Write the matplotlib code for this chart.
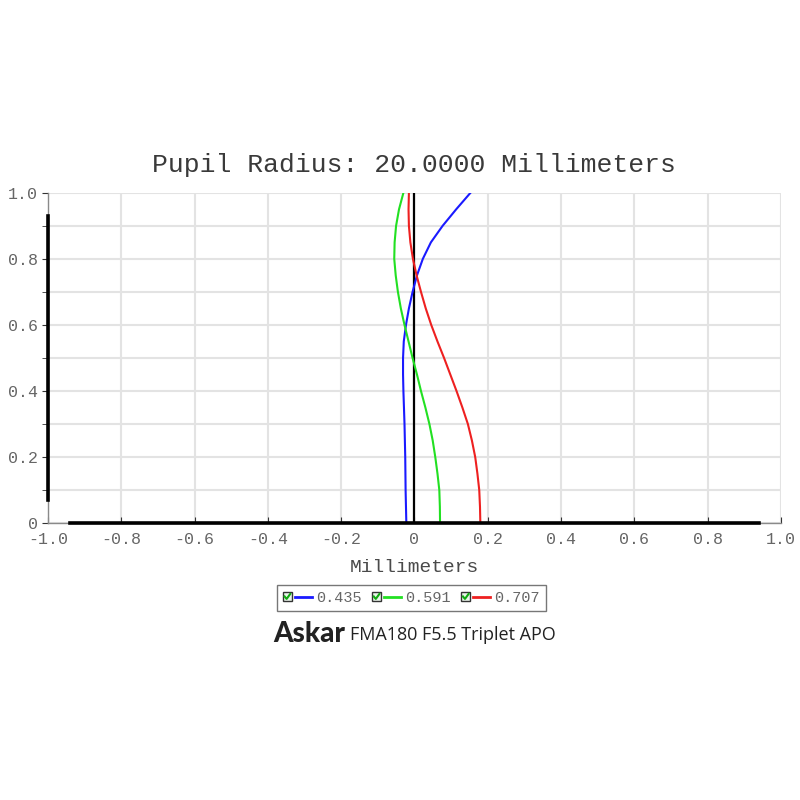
import numpy as np
import matplotlib
matplotlib.use("Agg")
import matplotlib.pyplot as plt
from matplotlib.legend_handler import HandlerLine2D
from matplotlib.lines import Line2D
from matplotlib.patches import Rectangle

# --- Dáta odčítané z obrázka ---
pupil = [0.00, 0.05, 0.10, 0.15, 0.20, 0.25, 0.30, 0.35, 0.40, 0.45, 0.50,
         0.55, 0.60, 0.65, 0.70, 0.75, 0.80, 0.85, 0.90, 0.95, 1.00]

blue_435 = [-0.022, -0.023, -0.024, -0.0245, -0.025, -0.026, -0.027, -0.0285, -0.030, -0.031, -0.031,
            -0.029, -0.023, -0.015, -0.005, 0.007, 0.023, 0.045, 0.077, 0.114, 0.153]
green_591 = [0.070, 0.0695, 0.068, 0.063, 0.057, 0.050, 0.041, 0.030, 0.018, 0.007, -0.005,
             -0.016, -0.027, -0.037, -0.045, -0.051, -0.055, -0.054, -0.050, -0.042, -0.030]
red_707 = [0.180, 0.179, 0.177, 0.172, 0.166, 0.157, 0.146, 0.131, 0.115, 0.098, 0.081,
           0.063, 0.046, 0.031, 0.018, 0.006, -0.004, -0.011, -0.015, -0.016, -0.015]

series_labels = ["0.435", "0.591", "0.707"]
series_colors = ["#1a1aff", "#22e022", "#ee2020"]

xticks = [-1.0, -0.8, -0.6, -0.4, -0.2, 0.0, 0.2, 0.4, 0.6, 0.8, 1.0]
xtick_labels = ["-1.0", "-0.8", "-0.6", "-0.4", "-0.2", "0", "0.2", "0.4", "0.6", "0.8", "1.0"]
yticks = [0.0, 0.2, 0.4, 0.6, 0.8, 1.0]
ytick_labels = ["0", "0.2", "0.4", "0.6", "0.8", "1.0"]
yminor = [0.1, 0.3, 0.5, 0.7, 0.9]

title = "Pupil Radius: 20.0000 Millimeters"
xlabel = "Millimeters"
brand = "Askar"
model = "FMA180 F5.5 Triplet APO"

mono = "Liberation Mono"
gray_txt = "#666666"


class CheckHandler(HandlerLine2D):
    """Legenda: zaškrtávacie políčko + čiara."""
    def create_artists(self, legend, orig, xdescent, ydescent, width, height, fontsize, trans):
        s = height * 0.85
        y0 = -ydescent + height / 2.0
        x0 = -xdescent
        box = Rectangle((x0, y0 - s / 2), s, s, facecolor="#eaf6ea",
                        edgecolor="#333333", lw=1.0, transform=trans)
        check = Line2D([x0 + 0.2 * s, x0 + 0.42 * s, x0 + 0.82 * s],
                       [y0 + 0.02 * s, y0 - 0.25 * s, y0 + 0.3 * s],
                       color="#11aa11", lw=1.5, transform=trans)
        line = Line2D([x0 + s + 2, x0 + width], [y0, y0],
                      color=orig.get_color(), lw=2.0, transform=trans)
        return [box, check, line]


fig = plt.figure(figsize=(8, 8), dpi=100)
ax = fig.add_axes([0.06, 0.346, 0.916, 0.413])

lines = []
for xs, lab, col in zip([blue_435, green_591, red_707], series_labels, series_colors):
    ln, = ax.plot(xs, pupil, color=col, lw=1.5, label=lab, zorder=4)
    lines.append(ln)

ax.axvline(0, color="black", lw=1.6, zorder=3)

ax.set_xlim(-1.0, 1.0)
ax.set_ylim(0.0, 1.0)
ax.set_xticks(xticks)
ax.set_xticklabels(xtick_labels)
ax.set_yticks(yticks)
ax.set_yticklabels(ytick_labels)
ax.set_yticks(yminor, minor=True)

ax.grid(True, which="both", color="#e3e3e3", lw=1.5, zorder=0)
ax.set_axisbelow(True)

for sp in ["top", "right"]:
    ax.spines[sp].set_visible(False)
for sp in ["left", "bottom"]:
    ax.spines[sp].set_color("#8a8a8a")
    ax.spines[sp].set_linewidth(1.0)

# hrubé čierne osi (nie cez celú dĺžku)
ax.axhline(0, xmin=0.03, xmax=0.97, color="black", lw=2.6, zorder=5, clip_on=False)
ax.axvline(-1.0, ymin=0.07, ymax=0.93, color="black", lw=2.6, zorder=5, clip_on=False)

ax.tick_params(axis="x", which="major", direction="in", length=4, color="#333333",
               labelsize=12, labelcolor=gray_txt, pad=6)
ax.tick_params(axis="y", which="both", direction="out", length=4, color="#333333",
               labelsize=12, labelcolor=gray_txt, pad=3)
for lab in ax.get_xticklabels() + ax.get_yticklabels():
    lab.set_fontfamily(mono)

ax.set_title(title, fontsize=19, family=mono, color="#3a3a3a", pad=15)
ax.set_xlabel(xlabel, fontsize=14, family=mono, color="#4a4a4a", labelpad=9)

leg = fig.legend(handles=lines, loc="center", bbox_to_anchor=(0.514, 0.2525), ncol=3,
                 handler_map={Line2D: CheckHandler()}, prop={"family": mono, "size": 11},
                 fancybox=False, frameon=True, edgecolor="#555555", handlelength=1.9,
                 handletextpad=0.25, columnspacing=0.7, borderpad=0.4, borderaxespad=0)
leg.get_frame().set_linewidth(1.0)
for t in leg.get_texts():
    t.set_color(gray_txt)

fig.text(0.432, 0.207, brand, ha="right", va="center", fontsize=20, fontweight="black",
         family="Lato", color="#222222")
fig.text(0.438, 0.206, model, ha="left", va="center", fontsize=13, family="Open Sans",
         color="#222222")

fig.savefig("out.png", dpi=100)
